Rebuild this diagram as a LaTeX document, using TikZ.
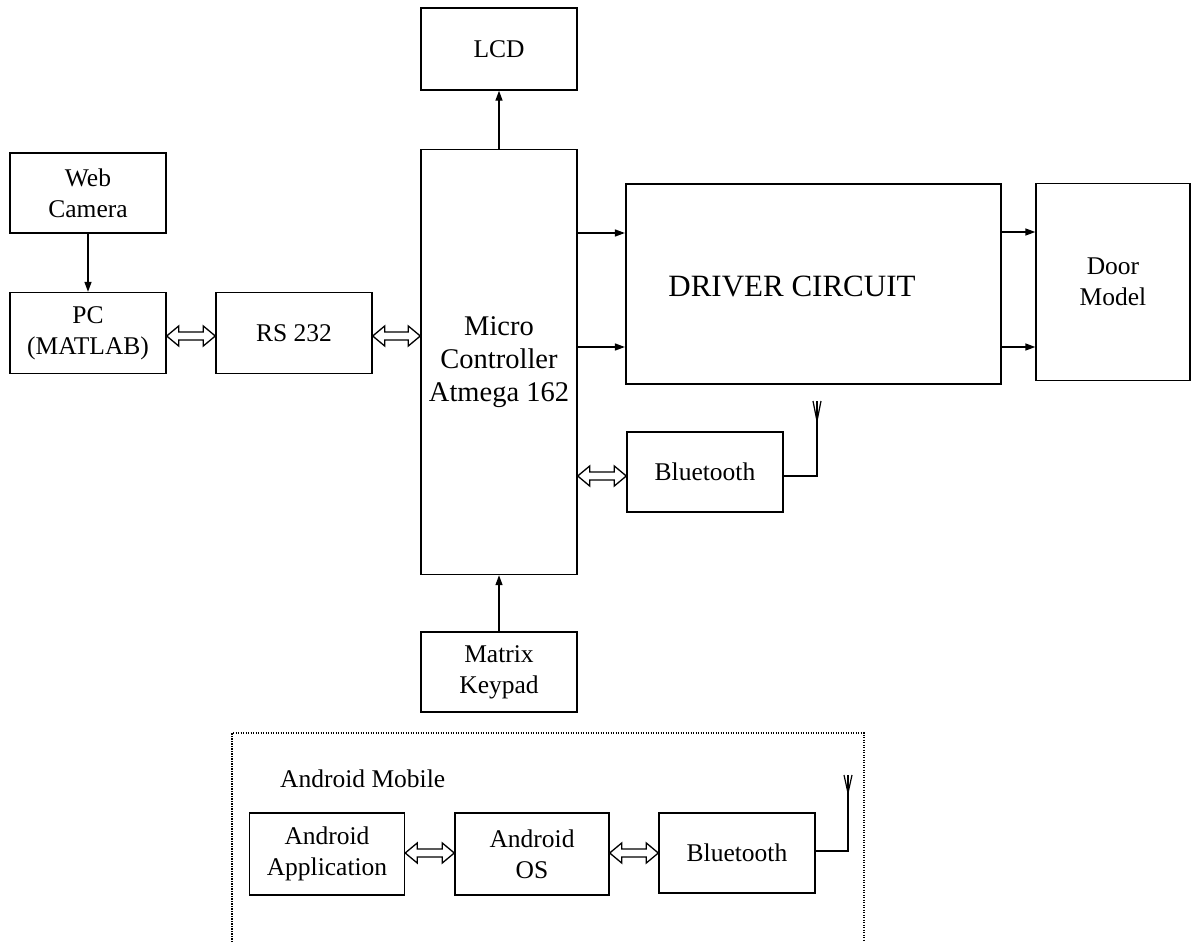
\documentclass[tikz,border=0pt]{standalone}
\usepackage{fontspec}
\setmainfont{Liberation Serif}
\usetikzlibrary{arrows.meta,calc}
\begin{document}
\begin{tikzpicture}[x=1pt,y=-1pt,
  blk/.style={draw, line width=1.4pt, inner sep=0pt, align=center,
    font=\fontsize{25.5}{31}\selectfont},
  arr/.style={line width=1.4pt, -{Triangle[length=10pt,width=7pt]}},
  dbl/.style={draw, line width=1.3pt, line join=miter, fill=white,
    to path={let \p1=(\tikztostart), \p2=(\tikztotarget) in
      (\x1,\y1) -- (\x1+12pt,\y1+10pt) -- (\x1+12pt,\y1+4pt) -- (\x2-12pt,\y1+4pt)
      -- (\x2-12pt,\y1+10pt) -- (\x2,\y1) -- (\x2-12pt,\y1-10pt) -- (\x2-12pt,\y1-4pt)
      -- (\x1+12pt,\y1-4pt) -- (\x1+12pt,\y1-10pt) -- cycle}},
  ant/.style={line width=1.4pt},
  dotbox/.style={line width=1.3pt, dash pattern=on 1.3pt off 1.2pt}]
\useasboundingbox (0,0) rectangle (1192,942);
% blocks
\node[blk, minimum width=156pt, minimum height=82pt] (lcd) at (499,49) {LCD};
\node[blk, minimum width=156pt, minimum height=80pt] (web) at (88,193) {Web\\Camera};
\node[blk, minimum width=156pt, minimum height=81pt] (pc) at (88,333) {PC\\(MATLAB)};
\node[blk, minimum width=156pt, minimum height=81pt] (rs) at (294,333) {RS 232};
\node[blk, minimum width=156pt, minimum height=425pt,
  font=\fontsize{28.5}{33}\selectfont] (mc) at (499,362) {Micro\\Controller\\Atmega 162};
\node[blk, line width=2.2pt, minimum width=375pt, minimum height=200pt] (drv) at (813.5,284) {};
\node[font=\fontsize{31}{34}\selectfont, inner sep=0pt] (drvlabel) at (792,286) {DRIVER CIRCUIT};
\node[blk, minimum width=154pt, minimum height=197pt] (door) at (1113,282) {Door\\Model};
\node[blk, minimum width=156pt, minimum height=80pt] (bt1) at (705,472) {Bluetooth};
\node[blk, minimum width=156pt, minimum height=80pt] (kp) at (499,672) {Matrix\\Keypad};
% Android mobile
\draw[dotbox] (232,942) -- (232,733) -- (864,733) -- (864,942);
\node[font=\fontsize{25.5}{31}\selectfont, anchor=west, inner sep=0pt] (am) at (280,779) {Android Mobile};
\node[blk, minimum width=155pt, minimum height=82pt] (app) at (327,854) {Android\\Application};
\node[blk, minimum width=154pt, minimum height=82pt] (os) at (532,854) {Android\\OS};
\node[blk, minimum width=156pt, minimum height=80pt] (bt2) at (737,853) {Bluetooth};
% connectors
\draw[arr] (mc.north) -- (lcd.south);
\draw[arr] (web.south) -- (pc.north);
\draw[arr] (kp.north) -- (mc.south);
\path[dbl] (pc.east |- 0,336) to (rs.west |- 0,336);
\path[dbl] (rs.east |- 0,336) to (mc.west |- 0,336);
\path[dbl] (mc.east |- 0,476) to (bt1.west |- 0,476);
\draw[arr] (mc.east |- 0,233) -- (drv.west |- 0,233);
\draw[arr] (mc.east |- 0,347) -- (drv.west |- 0,347);
\draw[arr] (drv.east |- 0,232) -- (door.west |- 0,232);
\draw[arr] (drv.east |- 0,347) -- (door.west |- 0,347);
\path[dbl] (app.east |- 0,853) to (os.west |- 0,853);
\path[dbl] (os.east |- 0,853) to (bt2.west |- 0,853);
% antennas
\coordinate (a1) at (817,401);
\draw[ant] (bt1.east |- 0,476) -- (817,476) -- (a1);
\draw[line width=1.2pt] (813,401) -- (817,421) -- (821,401);
\coordinate (a2) at (848,775);
\draw[ant] (bt2.east |- 0,851) -- (848,851) -- (a2);
\draw[line width=1.2pt] (844,775) -- (848,793) -- (852,775);
\end{tikzpicture}
\end{document}
